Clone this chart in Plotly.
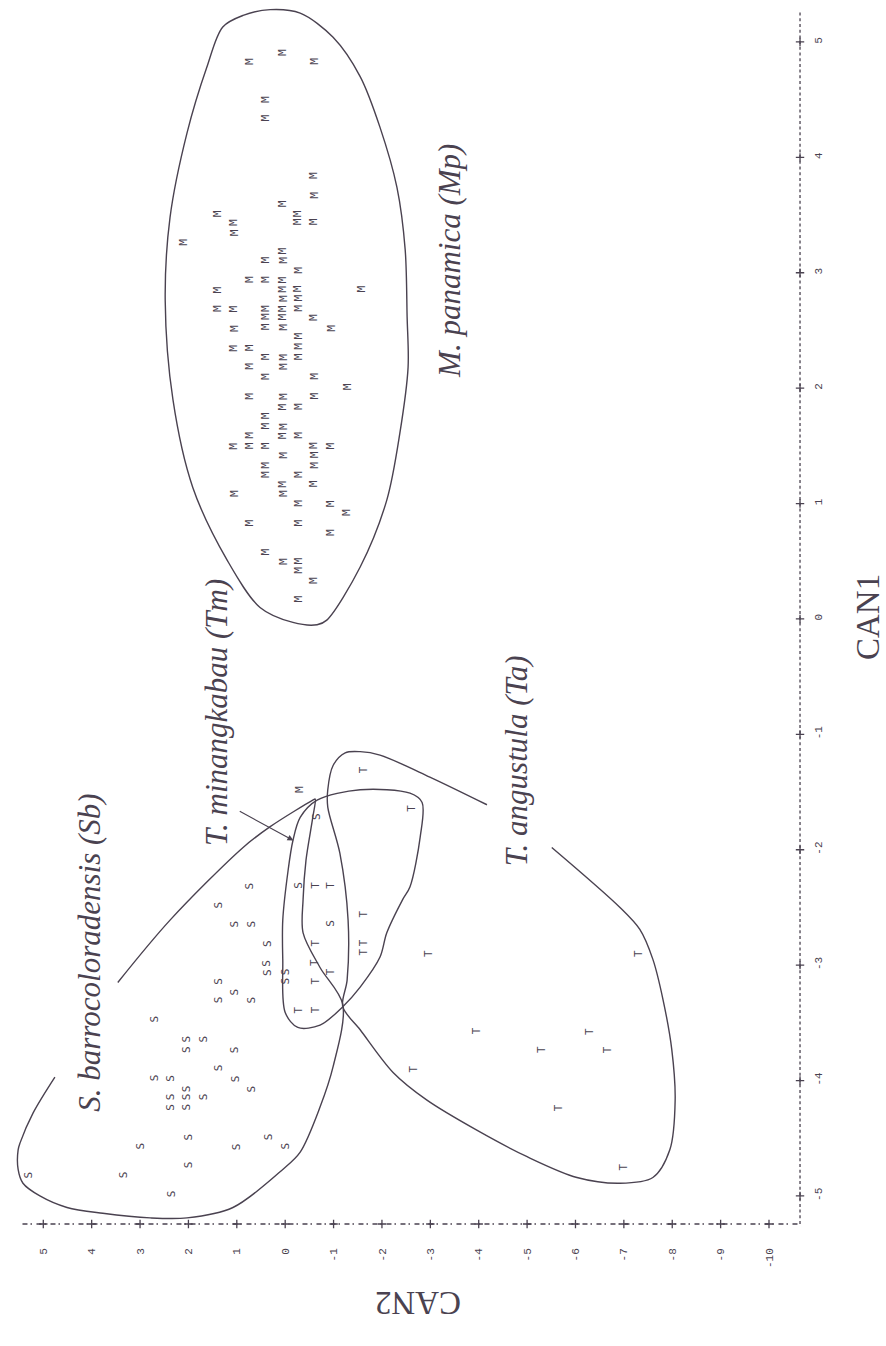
import plotly.graph_objects as go

INK = "#4a4250"

# ---- canonical scores (CAN1, CAN2) per species ----
M_CAN2 = [0.05, 0.74, -0.60, 0.41, 0.41, -0.60, -0.60, 0.05, 1.40, 1.06, 1.06, -0.27, -0.27, -0.60,
          2.09, 0.05, 0.05, 0.41, -0.27, 0.74, 0.41, 0.05, 0.05, 0.05, -0.27, -0.27, 1.40, -1.58,
          1.40, 1.06, 0.41, 0.05, -0.27, 0.41, 0.05, -0.60, 1.06, 0.41, 0.05, -0.94,
          -0.27, -0.27, -0.27, 1.06, 0.74, 0.41, 0.05, 0.05, 0.74, 0.41, -0.60, -1.28,
          0.74, 0.05, 0.05, -0.27, -0.60, 0.41, 0.41, 0.05, 0.05, -0.27,
          0.74, 0.74, 1.06, 0.41, -0.60, -0.60, -0.60, -0.94, 0.05, 0.41, 0.41, -0.27,
          0.05, 0.05, -0.60, 1.06, -0.27, -0.94, -1.28, 0.74, -0.27, -0.94, 0.41,
          0.05, -0.27, -0.27, -0.60, -0.27, -0.31]
M_CAN1 = [4.91, 4.83, 4.83, 4.50, 4.34, 3.84, 3.67, 3.60, 3.51, 3.44, 3.35, 3.51, 3.44, 3.44,
          3.26, 3.19, 3.11, 3.11, 3.02, 2.94, 2.94, 2.94, 2.86, 2.78, 2.86, 2.78, 2.85, 2.86,
          2.69, 2.69, 2.69, 2.69, 2.69, 2.62, 2.62, 2.61, 2.52, 2.53, 2.53, 2.52,
          2.45, 2.36, 2.27, 2.35, 2.35, 2.27, 2.27, 2.19, 2.19, 2.10, 2.10, 2.01,
          1.93, 1.93, 1.84, 1.84, 1.93, 1.76, 1.67, 1.67, 1.59, 1.59,
          1.59, 1.50, 1.50, 1.50, 1.50, 1.42, 1.33, 1.50, 1.42, 1.33, 1.25, 1.25,
          1.17, 1.09, 1.17, 1.09, 1.00, 1.00, 0.92, 0.83, 0.83, 0.75, 0.58,
          0.50, 0.50, 0.42, 0.33, 0.17, -1.48]

S_CAN2 = [1.38, 1.04, 0.69, 0.38, 0.38, 0.38, 0.00, 0.00, 1.38, 1.38, 1.04, 0.69, 2.71,
          2.04, 2.04, 1.69, 1.04, 1.38, 2.71, 2.37, 1.04, 0.69, 2.04, 2.37, 2.04, 1.69,
          2.37, 2.04, 2.00, 3.00, 1.00, 0.35, 0.00, 2.00, 3.35, 5.31, 2.35,
          0.73, -0.27, -0.65, -0.93]
S_CAN1 = [-2.48, -2.64, -2.64, -2.81, -2.98, -3.06, -3.06, -3.14, -3.14, -3.30, -3.23, -3.30, -3.47,
          -3.64, -3.73, -3.64, -3.73, -3.89, -3.98, -3.98, -3.98, -4.07, -4.07, -4.14, -4.14, -4.14,
          -4.23, -4.23, -4.49, -4.57, -4.57, -4.49, -4.57, -4.73, -4.82, -4.82, -4.98,
          -2.31, -2.31, -1.71, -2.64]

T_CAN2 = [-0.62, -0.93, -0.62, -0.62, -0.93, -0.62, -0.27, -0.62, -1.61, -1.61, -1.61,
          -2.61, -1.61, -2.96, -7.30, -3.97, -6.30, -5.30, -6.65, -2.65, -5.64, -6.99]
T_CAN1 = [-2.31, -2.31, -2.81, -2.98, -3.06, -3.14, -3.39, -3.39, -2.56, -2.81, -2.89,
          -1.64, -1.31, -2.90, -2.90, -3.57, -3.57, -3.73, -3.73, -3.90, -4.24, -4.75]

# ---- hand-drawn group envelopes ----
MP_ENV_CAN2 = [0.31, -0.31, -0.99, -1.55, -1.96, -2.31, -2.48, -2.52, -2.54, -2.37, -2.10, -1.55,
               -0.86, -0.66, -0.16, 0.52, 1.20, 1.91, 2.32, 2.48, 2.38, 2.03, 1.62, 1.29, 0.87, 0.31]
MP_ENV_CAN1 = [5.28, 5.25, 5.04, 4.70, 4.26, 3.74, 3.20, 2.62, 2.18, 1.61, 1.03, 0.45,
               -0.01, -0.05, -0.03, 0.10, 0.51, 1.14, 1.90, 2.76, 3.48, 4.21, 4.78, 5.13, 5.23, 5.28]

SB_ENV_CAN2 = [3.46, 2.38, 0.87, 0.31, -0.57, -0.62, -0.57, -0.43, -0.37, -0.37, -0.72, -1.19,
               -0.99, -0.72, -0.31, 0.05, 1.08, 2.03, 2.79, 3.77, 4.51, 5.07, 5.42, 5.52, 5.52,
               5.48, 5.21, 4.76]
SB_ENV_CAN1 = [-3.15, -2.61, -1.98, -1.80, -1.57, -1.56, -1.72, -2.09, -2.43, -2.72, -3.02, -3.34,
               -3.88, -4.23, -4.62, -4.77, -5.10, -5.19, -5.19, -5.15, -5.10, -5.00, -4.89, -4.77, -4.60,
               -4.54, -4.28, -3.97]

TM_ENV_CAN2 = [-0.66, -1.55, -2.58, -2.83, -2.79, -2.58, -2.43, -2.10, -1.96, -1.55, -1.19,
               -0.72, -0.26, 0.00, 0.05, 0.05, -0.06, -0.16, -0.31, -0.66]
TM_ENV_CAN1 = [-1.57, -1.48, -1.51, -1.59, -1.89, -2.32, -2.43, -2.72, -2.93, -3.19, -3.36,
               -3.52, -3.54, -3.41, -2.95, -2.61, -2.18, -1.92, -1.72, -1.57]

TA_ENV_CAN2 = [-4.17, -2.99, -1.96, -1.55, -1.24, -0.99, -0.88, -0.88, -1.13, -1.30, -1.28, -1.19,
               -1.55, -2.23, -2.93, -3.96, -5.00, -6.03, -6.92, -7.60, -7.95, -8.06, -7.99, -7.81,
               -7.60, -7.33, -6.92, -5.51]
TA_ENV_CAN1 = [-1.61, -1.37, -1.18, -1.15, -1.16, -1.27, -1.48, -1.63, -2.03, -2.61, -3.13, -3.36,
               -3.56, -3.93, -4.17, -4.43, -4.66, -4.84, -4.89, -4.84, -4.60, -4.17, -3.73, -3.30,
               -2.95, -2.69, -2.50, -1.98]

# ---- axes ----
CAN2_TICKS = [5, 4, 3, 2, 1, 0, -1, -2, -3, -4, -5, -6, -7, -8, -9, -10]
CAN1_TICKS = [-5, -4, -3, -2, -1, 0, 1, 2, 3, 4, 5]
CAN2_RANGE = [5.812, -10.806]
CAN1_RANGE = [-5.295, 5.329]
CAN2_AXIS_SPAN = [5.43, -10.641]
CAN1_AXIS_SPAN = [-5.243, 5.277]

# ---- group labels: text, CAN2, CAN1 ----
GROUP_LABELS = [
    ("M. panamica (Mp)", -3.40, 3.10),
    ("T. minangkabau (Tm)", 1.42, -0.81),
    ("S. barrocoloradensis (Sb)", 4.05, -2.89),
    ("T. angustula (Ta)", -4.78, -1.23),
]

fig = go.Figure()

line_style = dict(color=INK, width=1.4, shape="spline", smoothing=0.9)
for xs, ys in [(MP_ENV_CAN2, MP_ENV_CAN1), (SB_ENV_CAN2, SB_ENV_CAN1),
               (TM_ENV_CAN2, TM_ENV_CAN1), (TA_ENV_CAN2, TA_ENV_CAN1)]:
    fig.add_trace(go.Scatter(x=xs, y=ys, mode="lines", line=line_style,
                             hoverinfo="skip", showlegend=False))

# dashed frame lines with "+" tick crosses
fig.add_trace(go.Scatter(x=CAN2_AXIS_SPAN, y=[CAN1_AXIS_SPAN[0]] * 2, mode="lines",
                         line=dict(color=INK, width=1.3, dash="5px,3px,1.5px,4.5px"),
                         hoverinfo="skip", showlegend=False))
fig.add_trace(go.Scatter(x=[CAN2_AXIS_SPAN[1]] * 2, y=CAN1_AXIS_SPAN, mode="lines",
                         line=dict(color=INK, width=1.3, dash="3px,2.7px"),
                         hoverinfo="skip", showlegend=False))
fig.add_trace(go.Scatter(x=CAN2_TICKS, y=[CAN1_AXIS_SPAN[0]] * len(CAN2_TICKS), mode="markers",
                         marker=dict(symbol="cross-thin", size=6, line=dict(color=INK, width=1.3)),
                         cliponaxis=False, hoverinfo="skip", showlegend=False))
fig.add_trace(go.Scatter(x=[CAN2_AXIS_SPAN[1]] * len(CAN1_TICKS), y=CAN1_TICKS, mode="markers",
                         marker=dict(symbol="cross-thin", size=6, line=dict(color=INK, width=1.3)),
                         cliponaxis=False, hoverinfo="skip", showlegend=False))

annotations = []
glyph_font = dict(family="DejaVu Sans Mono", size=11, color=INK)
for letter, xs, ys in [("M", M_CAN2, M_CAN1), ("S", S_CAN2, S_CAN1), ("T", T_CAN2, T_CAN1)]:
    for x, y in zip(xs, ys):
        annotations.append(dict(x=x, y=y, xref="x", yref="y", text=letter, textangle=-90,
                                showarrow=False, font=glyph_font))

label_font = dict(family="Liberation Serif", size=31, color=INK)
for text, x, y in GROUP_LABELS:
    annotations.append(dict(x=x, y=y, xref="x", yref="y", text=f"<i>{text}</i>", textangle=-90,
                            showarrow=False, font=label_font))

# pointer from the T. minangkabau label to its envelope
annotations.append(dict(x=-0.17, y=-1.92, ax=0.97, ay=-1.66, xref="x", yref="y", axref="x", ayref="y",
                        text="", showarrow=True, arrowhead=2, arrowsize=1, arrowwidth=1.2,
                        arrowcolor=INK))

title_font = dict(family="Liberation Serif", size=33, color=INK)
annotations.append(dict(x=1.0995, y=0.5, xref="paper", yref="paper", text="CAN1", textangle=-90,
                        showarrow=False, font=title_font))
annotations.append(dict(x=0.515, y=-0.0759, xref="paper", yref="paper", text="CAN2", textangle=180,
                        showarrow=False, font=title_font))

tick_font = dict(family="Liberation Mono", size=11, color=INK)
fig.update_layout(
    width=886, height=1346,
    margin=dict(l=4, r=78, t=4, b=116),
    paper_bgcolor="white", plot_bgcolor="white",
    annotations=annotations,
    xaxis=dict(range=CAN2_RANGE, tickvals=CAN2_TICKS, ticktext=[str(v) for v in CAN2_TICKS],
               tickangle=-90, showgrid=False, zeroline=False, showline=False, ticks="",
               ticklabelstandoff=15, tickfont=tick_font),
    yaxis=dict(range=CAN1_RANGE, side="right", tickvals=CAN1_TICKS,
               ticktext=[str(v) for v in CAN1_TICKS], tickangle=-90, showgrid=False,
               zeroline=False, showline=False, ticks="", ticklabelstandoff=2, tickfont=tick_font),
)

fig.write_html("out.html")
